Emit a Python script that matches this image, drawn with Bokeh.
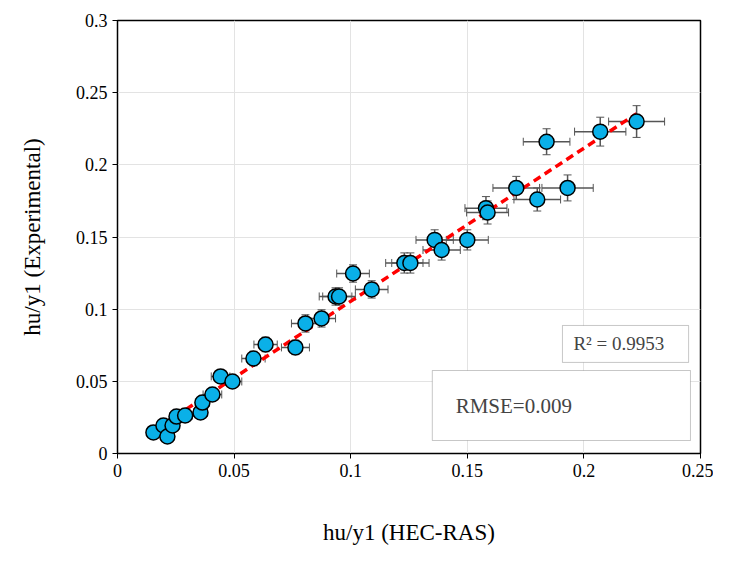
import numpy as np
from bokeh.plotting import figure
from bokeh.models import Label, BoxAnnotation, Whisker, ColumnDataSource, FixedTicker
from bokeh.embed import file_html
from bokeh.resources import INLINE

x_hec = [0.0154,0.0197,0.0214,0.0236,0.0253,0.029,0.0356,0.0364,0.0407,0.0442,0.0493,0.0583,0.0635,0.0763,0.0806,0.0875,0.0935,0.095,0.109,0.101,0.123,0.1256,0.136,0.139,0.150,0.158,0.1587,0.171,0.180,0.193,0.184,0.207,0.2226]
y_exp = [0.0146,0.0194,0.0118,0.0194,0.0256,0.0263,0.0284,0.0353,0.0409,0.0534,0.0499,0.0658,0.0755,0.0735,0.0901,0.0936,0.1088,0.1088,0.1137,0.1247,0.132,0.132,0.148,0.141,0.148,0.170,0.167,0.184,0.176,0.184,0.216,0.223,0.230]
x_err = [0.002,0.002,0.002,0.002,0.003,0.003,0.003,0.003,0.004,0.004,0.004,0.005,0.005,0.006,0.006,0.006,0.007,0.007,0.007,0.007,0.008,0.008,0.008,0.008,0.009,0.009,0.009,0.010,0.010,0.011,0.010,0.011,0.012]
y_err = [0.002,0.002,0.002,0.002,0.003,0.003,0.003,0.003,0.004,0.004,0.004,0.005,0.005,0.005,0.006,0.006,0.006,0.006,0.006,0.006,0.007,0.007,0.007,0.007,0.007,0.008,0.008,0.008,0.008,0.009,0.009,0.010,0.011]
x_ticks = [0, 0.05, 0.1, 0.15, 0.2, 0.25]
y_ticks = [0, 0.05, 0.1, 0.15, 0.2, 0.25, 0.3]

F = "Liberation Serif"
p = figure(width=713, height=559, x_range=(0, 0.25), y_range=(0, 0.3),
           output_backend="svg", toolbar_location=None,
           min_border_left=117, min_border_right=13, min_border_top=20, min_border_bottom=106)
p.outline_line_color = "black"; p.outline_line_width = 1.5
for ax, t in ((p.xaxis, x_ticks), (p.yaxis, y_ticks)):
    ax.ticker = FixedTicker(ticks=t)
    ax.major_label_text_font = F
    ax.major_label_text_font_size = "18px"
    ax.major_label_text_color = "black"
    ax.minor_tick_line_color = None
    ax.axis_line_color = "black"
    ax.major_tick_line_color = "black"
    ax.major_tick_in = 0; ax.major_tick_out = 5
    ax.axis_label_text_font = F
    ax.axis_label_text_font_size = "23px"
    ax.axis_label_text_font_style = "normal"
    ax.axis_label_text_color = "black"
p.xaxis.axis_label = "hu/y1 (HEC-RAS)"
p.yaxis.axis_label = "hu/y1 (Experimental)"
p.xaxis.axis_label_standoff = 40
p.yaxis.axis_label_standoff = 28
p.xaxis.major_label_overrides = {0: "0", 0.05: "0.05", 0.1: "0.1", 0.15: "0.15", 0.2: "0.2", 0.25: "0.25"}
p.yaxis.major_label_overrides = {0: "0", 0.05: "0.05", 0.1: "0.1", 0.15: "0.15", 0.2: "0.2", 0.25: "0.25", 0.3: "0.3"}
p.grid.grid_line_color = "#e3e3e3"

xa = np.array(x_hec); ya = np.array(y_exp)
src = ColumnDataSource(dict(x=xa, y=ya, xl=xa-np.array(x_err), xu=xa+np.array(x_err),
                            yl=ya-np.array(y_err), yu=ya+np.array(y_err)))
for w in (Whisker(base="y", lower="xl", upper="xu", dimension="width", source=src),
          Whisker(base="x", lower="yl", upper="yu", dimension="height", source=src)):
    w.line_color = "#555555"; w.line_width = 1.5
    w.upper_head.line_color = "#555555"; w.lower_head.line_color = "#555555"
    w.upper_head.size = 8; w.lower_head.size = 8
    p.add_layout(w)

m, b = np.polyfit(xa, ya, 1)
lx = np.array([xa.min(), xa.max()])
p.line(lx, m*lx+b, line_color="red", line_width=3.5, line_dash="8 5")
p.scatter("x", "y", source=src, size=15, fill_color="#0ab0e8", line_color="black", line_width=1.5)

p.add_layout(BoxAnnotation(left=0.1908, right=0.2449, bottom=0.0631, top=0.0887,
                           fill_color="white", fill_alpha=1, line_color="#444444", line_width=1))
p.add_layout(BoxAnnotation(left=0.135, right=0.2457, bottom=0.009, top=0.0575,
                           fill_color="white", fill_alpha=1, line_color="#444444", line_width=1))
p.add_layout(Label(x=0.1955, y=0.076, text="R² = 0.9953", text_font=F, text_font_size="19px", text_baseline="middle"))
p.add_layout(Label(x=0.145, y=0.033, text="RMSE=0.009", text_font=F, text_font_size="21px", text_baseline="middle"))

open("out.html", "w").write(file_html(p, INLINE))
